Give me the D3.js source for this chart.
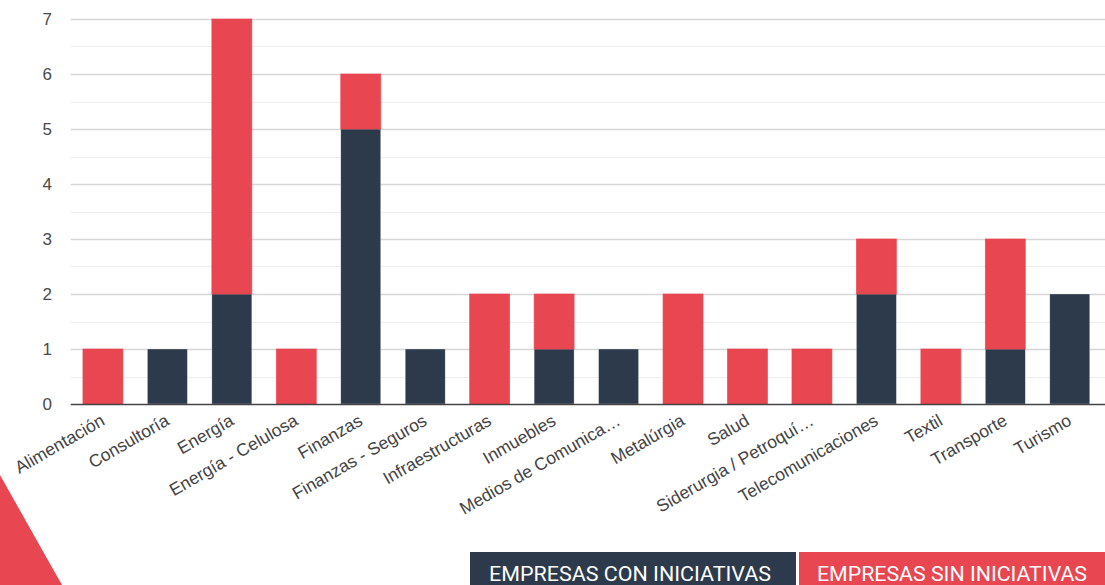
<!DOCTYPE html>
<html>
<head>
<meta charset="utf-8">
<script src="https://cdn.jsdelivr.net/npm/d3@7/dist/d3.min.js"></script>
<style>
  html, body { margin: 0; padding: 0; background: #fff; }
  svg { display: block; }
</style>
</head>
<body>
<svg id="chart" width="1105" height="585"></svg>
<script>
// Sectors and number of companies in each group
const categories = [
  "Alimentación", "Consultoría", "Energía", "Energía - Celulosa", "Finanzas",
  "Finanzas - Seguros", "Infraestructuras", "Inmuebles", "Medios de Comunica…",
  "Metalúrgia", "Salud", "Siderurgia / Petroquí…", "Telecomunicaciones",
  "Textil", "Transporte", "Turismo"
];
const conIniciativas = [0, 1, 2, 0, 5, 1, 0, 1, 1, 0, 0, 0, 2, 0, 1, 2];
const sinIniciativas = [1, 0, 5, 1, 1, 0, 2, 1, 0, 2, 1, 1, 1, 1, 2, 0];
const yTicks = [0, 1, 2, 3, 4, 5, 6, 7];
const seriesNames = ["EMPRESAS CON INICIATIVAS", "EMPRESAS SIN INICIATIVAS"];

const DARK = "#2c3a4b";
const RED = "#e84650";

const svg = d3.select("#chart");
const W = 1105, H = 585;
const plotLeft = 70.7, plotRight = 1102, plotTop = 19, plotBottom = 404;

const x = d3.scaleBand().domain(categories).range([plotLeft, plotRight]).paddingInner(0.38).paddingOuter(0.19);
const y = d3.scaleLinear().domain([0, 7]).range([plotBottom, plotTop]);

// decorative corner triangle
svg.append("path")
  .attr("d", "M0,475 L62,585 L0,585 Z")
  .attr("fill", RED);

// minor gridlines at half steps
const minor = d3.range(0.5, 7, 1);
svg.append("g").selectAll("line").data(minor).join("line")
  .attr("x1", plotLeft).attr("x2", W)
  .attr("y1", d => Math.round(y(d)) + 0.5).attr("y2", d => Math.round(y(d)) + 0.5)
  .attr("stroke", "#eeeeee").attr("stroke-width", 1);

// major gridlines
svg.append("g").selectAll("line").data(yTicks.filter(d => d > 0)).join("line")
  .attr("x1", plotLeft).attr("x2", W)
  .attr("y1", d => Math.round(y(d)) + 0.5).attr("y2", d => Math.round(y(d)) + 0.5)
  .attr("stroke", "#d6d6d6").attr("stroke-width", 1.5);

// y axis labels
const yAxis = d3.axisLeft(y).tickValues(yTicks).tickSize(0).tickPadding(0).tickFormat(d3.format("d"));
const ga = svg.append("g").attr("transform", `translate(52,0)`).call(yAxis);
ga.select(".domain").remove();
ga.selectAll("text")
  .attr("font-family", "'Liberation Sans', Arial, sans-serif")
  .attr("font-size", 17).attr("fill", "#4a4a4a").attr("dy", "0.33em");

// stacked bars
const stack = d3.stack().keys([0, 1]).value((d, k) => d[k]);
const rows = categories.map((c, i) => Object.assign([conIniciativas[i], sinIniciativas[i]], { cat: c }));
const layers = stack(rows);
const colors = [DARK, RED];

layers.forEach((layer, k) => {
  svg.append("g").selectAll("rect").data(layer).join("rect")
    .attr("x", d => x(d.data.cat))
    .attr("width", x.bandwidth())
    .attr("y", d => y(d[1]))
    .attr("height", d => y(d[0]) - y(d[1]))
    .attr("fill", colors[k])
    .attr("stroke", k === 0 ? "#ffffff" : RED)
    .attr("stroke-opacity", k === 0 ? 0.5 : 0.8)
    .attr("stroke-width", k === 0 ? 0.6 : 0.8);
});

// baseline
svg.append("line")
  .attr("x1", plotLeft).attr("x2", W)
  .attr("y1", plotBottom + 0.5).attr("y2", plotBottom + 0.5)
  .attr("stroke", "#444").attr("stroke-width", 1.5);

// slanted category labels
const xAxis = d3.axisBottom(x).tickSize(0).tickPadding(0);
const gx = svg.append("g").attr("transform", `translate(0,${plotBottom})`).call(xAxis);
gx.select(".domain").remove();
gx.selectAll("text")
  .attr("font-family", "'Liberation Sans', Arial, sans-serif")
  .attr("font-size", 17.5).attr("fill", "#444")
  .attr("text-anchor", "end")
  .attr("dy", 0).attr("y", 0)
  .attr("transform", "translate(3,20) rotate(-30)");

// legend boxes
const legend = [
  { name: seriesNames[0], color: DARK, x0: 470, x1: 796, tx: 489, tl: 282 },
  { name: seriesNames[1], color: RED, x0: 799, x1: 1105, tx: 817, tl: 270 }
];
const lg = svg.append("g").selectAll("g").data(legend).join("g");
lg.append("rect")
  .attr("x", d => d.x0).attr("y", 552)
  .attr("width", d => d.x1 - d.x0).attr("height", 33)
  .attr("fill", d => d.color);
lg.append("text")
  .attr("x", d => d.tx).attr("y", 581)
  .attr("font-family", "Roboto, sans-serif")
  .attr("font-size", 19.5).attr("fill", "#fff")
  .attr("textLength", d => d.tl).attr("lengthAdjust", "spacingAndGlyphs")
  .text(d => d.name);
</script>
</body>
</html>
